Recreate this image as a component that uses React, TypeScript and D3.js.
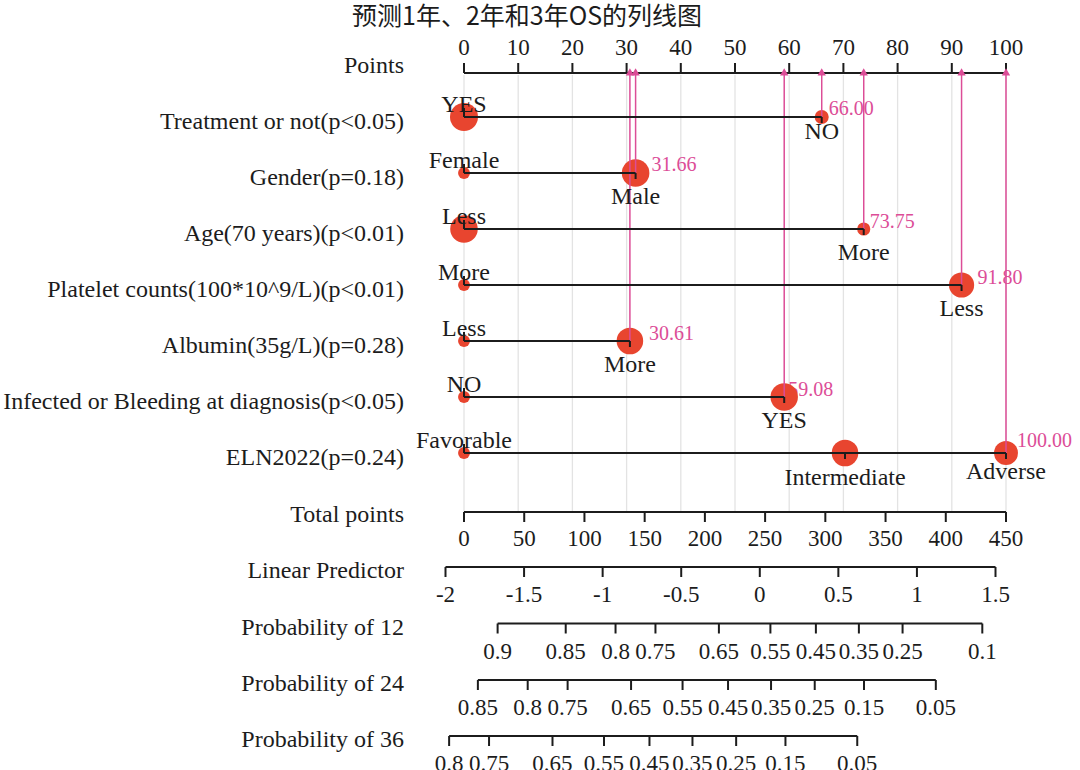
import React, { useRef, useEffect } from 'react';
import * as d3 from 'd3';

// ---- data ----
const title = '预测1年、2年和3年OS的列线图';

const variables = [
    'Treatment or not(p<0.05)',
    'Gender(p=0.18)',
    'Age(70 years)(p<0.01)',
    'Platelet counts(100*10^9/L)(p<0.01)',
    'Albumin(35g/L)(p=0.28)',
    'Infected or Bleeding at diagnosis(p<0.05)',
    'ELN2022(p=0.24)',
];
const levelNames = [
    ['YES', 'NO'],
    ['Female', 'Male'],
    ['Less', 'More'],
    ['More', 'Less'],
    ['Less', 'More'],
    ['NO', 'YES'],
    ['Favorable', 'Intermediate', 'Adverse'],
];
const levelPoints = [
    [0, 66.0],
    [0, 31.66],
    [0, 73.75],
    [0, 91.8],
    [0, 30.61],
    [0, 59.08],
    [0, 70.3, 100.0],
];
// patient counts per level
const levelCounts = [
    [100, 25],
    [18, 97],
    [97, 22],
    [18, 81],
    [18, 90],
    [18, 96],
    [18, 90, 73],
];

const pointsTicks = [0, 10, 20, 30, 40, 50, 60, 70, 80, 90, 100];
const totalTicks = [0, 50, 100, 150, 200, 250, 300, 350, 400, 450];
const lpTicks = [-2, -1.5, -1, -0.5, 0, 0.5, 1, 1.5];
const probTitles = ['Probability of 12', 'Probability of 24', 'Probability of 36'];
// lp = log(-log(p)) + shift, one shift per time point
const probShift = [0.582, 0.023, -0.477];
const probTicks = [
    [0.9, 0.85, 0.8, 0.75, 0.65, 0.55, 0.45, 0.35, 0.25, 0.1],
    [0.85, 0.8, 0.75, 0.65, 0.55, 0.45, 0.35, 0.25, 0.15, 0.05],
    [0.8, 0.75, 0.65, 0.55, 0.45, 0.35, 0.25, 0.15, 0.05],
];

// ---- layout ----
const FONT = '"Liberation Serif", "Times New Roman", serif';
const PINK = '#dc4d97';
const RED = '#e8452f';
const INK = '#1c1c1c';
const valueDx = [7, 16, 6, 16, 19, 4, 11];
const valueDy = [-2, -2, -1, -1, -1, -1, -6];
const belowDy = [[0, 22], [0, 31], [0, 31], [0, 31], [0, 31], [0, 31], [0, 32, 26]];

const Nomogram: React.FC = () => {
    const svgRef = useRef<SVGSVGElement | null>(null);

    useEffect(() => {
        if (!svgRef.current) return;
        const svg = d3.select(svgRef.current);
        svg.selectAll('*').remove();

        const xPts = d3.scaleLinear().domain([0, 100]).range([464, 1006]);
        const xTot = d3.scaleLinear().domain([0, 450]).range([464, 1006]);
        const xLp = d3.scaleLinear().domain([-2, 1.5]).range([445.5, 995.5]);
        const rowY = d3.scaleLinear().domain([0, 6]).range([117, 453]);
        const radius = d3.scaleSqrt().domain([0, 100]).range([0, 14]);

        const yPoints = 73;
        const yTotal = 512;
        const yLp = 567;
        const yProb = [623.5, 680, 736];

        // title
        svg.append('text')
            .attr('x', 352).attr('y', 25)
            .attr('font-family', '"Noto Sans CJK SC", sans-serif')
            .attr('font-size', 25)
            .attr('fill', INK)
            .text(title);

        const leftLabel = (txt: string, y: number) => svg.append('text')
            .attr('x', 404).attr('y', y)
            .attr('text-anchor', 'end')
            .attr('font-family', FONT).attr('font-size', 24)
            .attr('fill', INK)
            .text(txt);

        // grid
        svg.append('g').selectAll('line')
            .data(pointsTicks)
            .enter().append('line')
            .attr('x1', d => xPts(d)).attr('x2', d => xPts(d))
            .attr('y1', yPoints + 2).attr('y2', yTotal)
            .attr('stroke', '#e3e3e3').attr('stroke-width', 1.3);

        const maxPts = levelPoints.map(p => d3.max(p) as number);

        // pink max-point values (drawn under the bubbles)
        svg.append('g').selectAll('text')
            .data(maxPts)
            .enter().append('text')
            .attr('x', (d, i) => xPts(d) + valueDx[i])
            .attr('y', (d, i) => rowY(i) + valueDy[i])
            .attr('font-family', FONT).attr('font-size', 20)
            .attr('fill', PINK)
            .text(d => d.toFixed(2));

        // bubbles
        levelPoints.forEach((pts, i) => {
            svg.append('g').selectAll('circle')
                .data(pts)
                .enter().append('circle')
                .attr('cx', d => xPts(d))
                .attr('cy', rowY(i))
                .attr('r', (d, j) => radius(levelCounts[i][j]))
                .attr('fill', RED);
        });

        // pink guide lines
        svg.append('g').selectAll('line')
            .data(maxPts)
            .enter().append('line')
            .attr('x1', d => xPts(d)).attr('x2', d => xPts(d))
            .attr('y1', yPoints).attr('y2', (d, i) => rowY(i))
            .attr('stroke', PINK).attr('stroke-width', 1.5);

        // row axes
        levelPoints.forEach((pts, i) => {
            const y = rowY(i);
            const g = svg.append('g');
            g.append('line')
                .attr('x1', xPts(0)).attr('x2', xPts(d3.max(pts) as number))
                .attr('y1', y).attr('y2', y)
                .attr('stroke', INK).attr('stroke-width', 2);
            g.selectAll('line.tick')
                .data(pts)
                .enter().append('line')
                .attr('class', 'tick')
                .attr('x1', d => xPts(d)).attr('x2', d => xPts(d))
                .attr('y1', y).attr('y2', (d, j) => (j === 0 ? y - 9 : y + 6))
                .attr('stroke', INK).attr('stroke-width', 2);
            g.selectAll('text')
                .data(pts)
                .enter().append('text')
                .attr('x', d => xPts(d))
                .attr('y', (d, j) => (j === 0 ? y - 5 : y + belowDy[i][j]))
                .attr('text-anchor', 'middle')
                .attr('font-family', FONT).attr('font-size', 24)
                .attr('fill', INK)
                .text((d, j) => levelNames[i][j]);
            leftLabel(variables[i], y + 12);
        });

        // generic horizontal axis
        const drawAxis = (xs: number[], labels: string[], y: number, dir: number, labelY: number) => {
            const g = svg.append('g');
            g.append('line')
                .attr('x1', d3.min(xs) as number).attr('x2', d3.max(xs) as number)
                .attr('y1', y).attr('y2', y)
                .attr('stroke', INK).attr('stroke-width', 2);
            g.selectAll('line.tick')
                .data(xs)
                .enter().append('line')
                .attr('class', 'tick')
                .attr('x1', d => d).attr('x2', d => d)
                .attr('y1', y).attr('y2', y + dir * 10)
                .attr('stroke', INK).attr('stroke-width', 2);
            g.selectAll('text')
                .data(xs)
                .enter().append('text')
                .attr('x', d => d).attr('y', labelY)
                .attr('text-anchor', 'middle')
                .attr('font-family', FONT).attr('font-size', 23)
                .attr('fill', INK)
                .text((d, i) => labels[i]);
        };

        // Points axis + markers
        drawAxis(pointsTicks.map(xPts), pointsTicks.map(String), yPoints, -1, 55);
        leftLabel('Points', yPoints);
        svg.append('g').selectAll('path')
            .data(maxPts)
            .enter().append('path')
            .attr('d', d3.symbol(d3.symbolTriangle).size(30)() as string)
            .attr('transform', d => `translate(${xPts(d)},${yPoints})`)
            .attr('fill', PINK);

        drawAxis(totalTicks.map(xTot), totalTicks.map(String), yTotal, 1, yTotal + 34);
        leftLabel('Total points', yTotal + 10);

        drawAxis(lpTicks.map(xLp), lpTicks.map(String), yLp, 1, yLp + 35);
        leftLabel('Linear Predictor', yLp + 11);

        probTicks.forEach((ticks, k) => {
            const xs = ticks.map(p => xLp(Math.log(-Math.log(p)) + probShift[k]));
            drawAxis(xs, ticks.map(String), yProb[k], 1, yProb[k] + 35);
            leftLabel(probTitles[k], yProb[k] + 11);
        });
    }, []);

    return (
        <svg ref={svgRef} width={1080} height={770}
            style={{ position: 'absolute', left: 0, top: 0, background: '#fff' }} />
    );
};

export default function App() {
    return <Nomogram />;
}
